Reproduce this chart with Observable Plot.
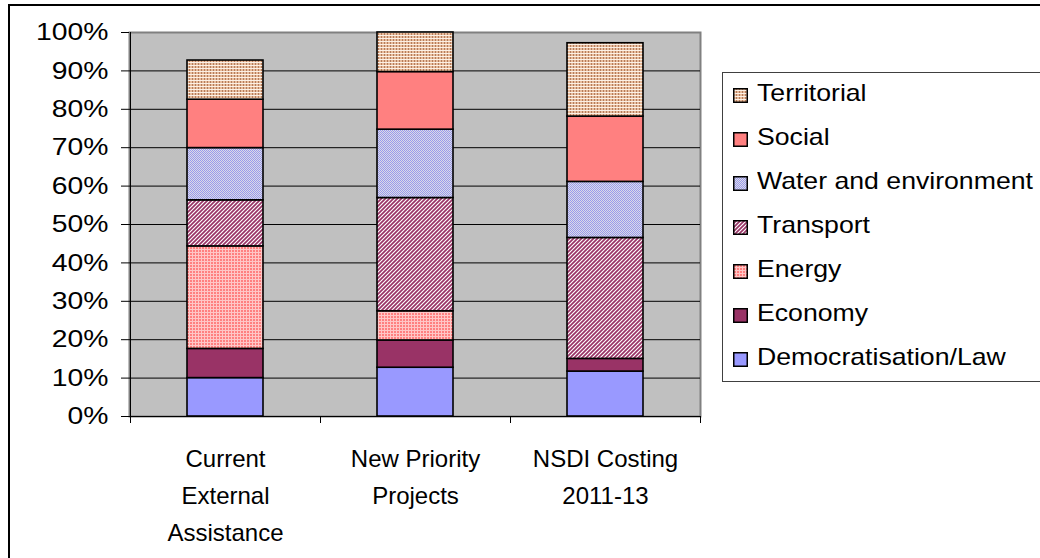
<!DOCTYPE html>
<html><head><meta charset="utf-8">
<script src="https://cdn.jsdelivr.net/npm/d3@7"></script>
<script src="https://cdn.jsdelivr.net/npm/@observablehq/plot@0.6"></script>
<style>
body{margin:0;background:#fff;font-family:"Liberation Sans",Arial,sans-serif;}
#wrap{position:relative;width:1040px;height:558px;overflow:hidden;}
#border{position:absolute;left:8px;top:4px;width:1100px;height:700px;border:2px solid #000;box-sizing:border-box;pointer-events:none}
#chart{position:absolute;left:0;top:0;}
#legend{position:absolute;left:722px;top:72px;width:400px;height:310px;border:1px solid #404040;box-sizing:border-box;background:#fff}
.row{height:44px;display:flex;align-items:center;font-size:24px;color:#000;margin-top:-2px;margin-bottom:2px}
.row svg{margin-left:10px;margin-right:9px;margin-top:5px;flex:none}
.row span{display:inline-block;transform:scaleX(1.11);transform-origin:left center;white-space:nowrap}
#defs{position:absolute;width:0;height:0;}
</style></head>
<body>
<svg id="defs" width="0" height="0">
<defs>
<pattern id="pTerr" width="3" height="3" patternUnits="userSpaceOnUse">
<rect width="3" height="3" fill="#e8bc9c"/>
<rect width="1" height="3" fill="#b47c5c"/>
<rect width="3" height="1" y="2" fill="#fbf0e6"/>
</pattern>
<pattern id="pWater" width="2" height="2" patternUnits="userSpaceOnUse">
<rect width="2" height="2" fill="#dcdce6"/>
<rect width="1" height="1" fill="#9999ee"/>
<rect x="1" y="1" width="1" height="1" fill="#9999ee"/>
</pattern>
<pattern id="pTrans" width="4" height="4" patternUnits="userSpaceOnUse">
<rect width="4" height="4" fill="#fff"/>
<path d="M-1,1 l2,-2 M0,4 l4,-4 M3,5 l2,-2" stroke="#993366" stroke-width="1.7"/>
</pattern>
<pattern id="pEnergy" width="3" height="3" patternUnits="userSpaceOnUse">
<rect width="3" height="3" fill="#ff8080"/>
<rect width="3" height="1" fill="#ffc6c6"/>
<rect width="1" height="3" fill="#ffc6c6"/>
</pattern>
</defs>
</svg>
<div id="wrap">
<div id="chart"></div>
<div id="legend"></div>
<div id="border"></div>
</div>
<script>
// ---- data ----
const categories = ["Current External Assistance", "New Priority Projects", "NSDI Costing 2011-13"];
const tickLabels = ["Current\nExternal\nAssistance", "New Priority\nProjects", "NSDI Costing\n2011-13"];
const series = ["Democratisation/Law", "Economy", "Energy", "Transport", "Water and environment", "Social", "Territorial"];
const democratisationLaw = [10.0, 12.7, 11.7];
const economy = [7.6, 7.1, 3.3];
const energy = [26.7, 7.6, 0];
const transport = [12.0, 29.5, 31.5];
const waterEnvironment = [13.6, 17.8, 14.6];
const social = [12.6, 15.0, 17.0];
const territorial = [10.2, 10.3, 19.1];
const yTicks = [0, 10, 20, 30, 40, 50, 60, 70, 80, 90, 100];

// ---- styles ----
const fills = ["#9999ff", "#993366", "url(#pEnergy)", "url(#pTrans)", "url(#pWater)", "#ff8080", "url(#pTerr)"];

const seriesValues = [democratisationLaw, economy, energy, transport, waterEnvironment, social, territorial];
const data = [];
series.forEach((s, si) => categories.forEach((c, ci) => {
  if (seriesValues[si][ci] > 0) data.push({series: s, category: c, value: seriesValues[si][ci]});
}));

const chart = Plot.plot({
  width: 1040, height: 558,
  marginLeft: 129, marginRight: 340, marginTop: 32, marginBottom: 142,
  style: {fontFamily: "'Liberation Sans', Arial, sans-serif", fontSize: "24px", color: "#000", background: "transparent", overflow: "visible"},
  x: {domain: categories, paddingInner: 0.6, paddingOuter: 0.3, label: null, axis: null},
  y: {domain: [0, 100], label: null, axis: null},
  color: {domain: series, range: fills},
  marks: [
    Plot.frame({fill: "#c0c0c0", stroke: "#808080", strokeWidth: 2}),
    Plot.ruleY(yTicks.filter(t => t > 0 && t < 100), {stroke: "#000", strokeWidth: 1}),
    Plot.barY(data, {x: "category", y: "value", fill: "series", stroke: "#000", strokeWidth: 1.6}),
    Plot.ruleY([0], {stroke: "#000", strokeWidth: 1}),
    Plot.ruleX([categories[0]], {dx: -95, stroke: "#000", strokeWidth: 1}),
    Plot.ruleX(categories, {dx: -95, y1: 0, y2: 0, insetBottom: -7, stroke: "#000"}),
    Plot.ruleX([categories[categories.length - 1]], {dx: 95, y1: 0, y2: 0, insetBottom: -7, stroke: "#000"}),
    Plot.axisY({ticks: yTicks, tickFormat: d => d + "%", tickSize: 8, tickPadding: 13, fontSize: 24, stroke: "#000"}),
    Plot.axisX({tickSize: 0, tickPadding: 24, fontSize: 24, lineHeight: 1.54, tickFormat: d => tickLabels[categories.indexOf(d)]})
  ]
});
document.getElementById("chart").appendChild(chart);

// widen the y tick labels around their right edge, as in the reference
const yLab = chart.querySelector('g[aria-label="y-axis tick label"]');
if (yLab) {
  const prev = yLab.getAttribute("transform") || "";
  const bb = yLab.getBBox();
  let tx = 0;
  const mm = /translate\(([-\d.]+)/.exec(prev);
  if (mm) tx = +mm[1];
  const R = bb.x + bb.width + tx;
  yLab.setAttribute("transform", `translate(${R},0) scale(1.18,1) translate(${-R},0) ${prev}`);
}

// legend
const legend = document.getElementById("legend");
for (let i = series.length - 1; i >= 0; i--) {
  const row = document.createElement("div");
  row.className = "row";
  row.innerHTML = `<svg width="15" height="15"><rect x="0.75" y="0.75" width="13.5" height="13.5" fill="${fills[i]}" stroke="#000" stroke-width="1.5"/></svg><span>${series[i]}</span>`;
  legend.appendChild(row);
}
</script>
</body></html>
